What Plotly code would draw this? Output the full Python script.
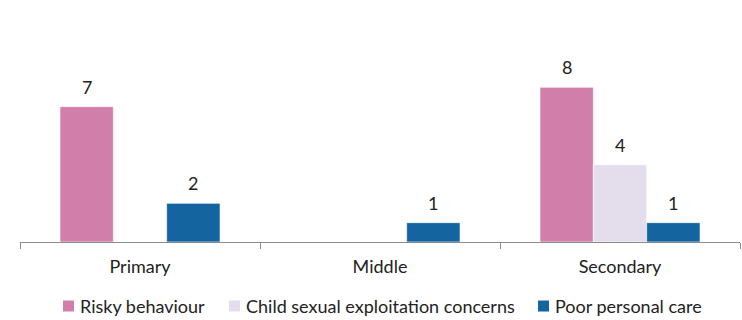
import plotly.graph_objects as go

# School phases and counts per concern type
categories = ["Primary", "Middle", "Secondary"]
series_names = ["Risky behaviour", "Child sexual exploitation concerns", "Poor personal care"]
risky_behaviour = [7, None, 8]
cse_concerns = [None, None, 4]
poor_personal_care = [2, 1, 1]

series_values = [risky_behaviour, cse_concerns, poor_personal_care]
colors = ["#D17EAB", "#E4DEEC", "#1464A0"]

FONT = "Lato"
TEXT = "#222222"
BARGAP = 1 / 3
W, H = 742, 320
ML, MR, MT, MB = 20, 2, 10, 78

fig = go.Figure()
for name, vals, col in zip(series_names, series_values, colors):
    fig.add_trace(go.Bar(
        x=categories, y=vals, name=name, showlegend=False,
        marker=dict(color=col, line=dict(color="rgba(255,255,255,0.6)", width=1)),
    ))

# value labels above each bar
n = len(series_values)
w = (1 - BARGAP) / n
annotations = []
for i, vals in enumerate(series_values):
    for j, v in enumerate(vals):
        if v is None:
            continue
        annotations.append(dict(
            x=j + (i - (n - 1) / 2) * w, y=v, xref="x", yref="y",
            text=str(v), showarrow=False, yanchor="bottom", yshift=7,
            font=dict(family=FONT, size=18, color=TEXT),
        ))

# legend row below the axis: coloured square + label per series
pw, ph = W - ML - MR, H - MT - MB
def px_x(p):
    return (p - ML) / pw
def px_y(p):
    return (H - MB - p) / ph

legend_left = [63, 229, 538]
legend_y = 306
shapes = []
for x0, name, col in zip(legend_left, series_names, colors):
    shapes.append(dict(type="rect", xref="paper", yref="paper",
                       x0=px_x(x0), x1=px_x(x0 + 11),
                       y0=px_y(legend_y - 5.5), y1=px_y(legend_y + 5.5),
                       fillcolor=col, line=dict(width=0)))
    annotations.append(dict(x=px_x(x0 + 15), y=px_y(legend_y), xref="paper", yref="paper",
                            text=name, showarrow=False, xanchor="left", yanchor="middle",
                            font=dict(family=FONT, size=18, color=TEXT)))

fig.update_layout(
    width=W, height=H,
    margin=dict(l=ML, r=MR, t=MT, b=MB),
    paper_bgcolor="white", plot_bgcolor="white",
    barmode="group", bargap=BARGAP, bargroupgap=0,
    font=dict(family=FONT, size=18, color=TEXT),
    showlegend=False,
    annotations=annotations,
    shapes=shapes,
    xaxis=dict(showline=True, linecolor="#8c8c8c", linewidth=1,
               ticks="outside", tickson="boundaries", ticklen=6, tickcolor="#8c8c8c",
               ticklabelstandoff=8,
               showgrid=False, tickfont=dict(family=FONT, size=18, color=TEXT)),
    yaxis=dict(range=[0, 12], visible=False, showgrid=False, zeroline=False),
)

fig.write_html("out.html")
